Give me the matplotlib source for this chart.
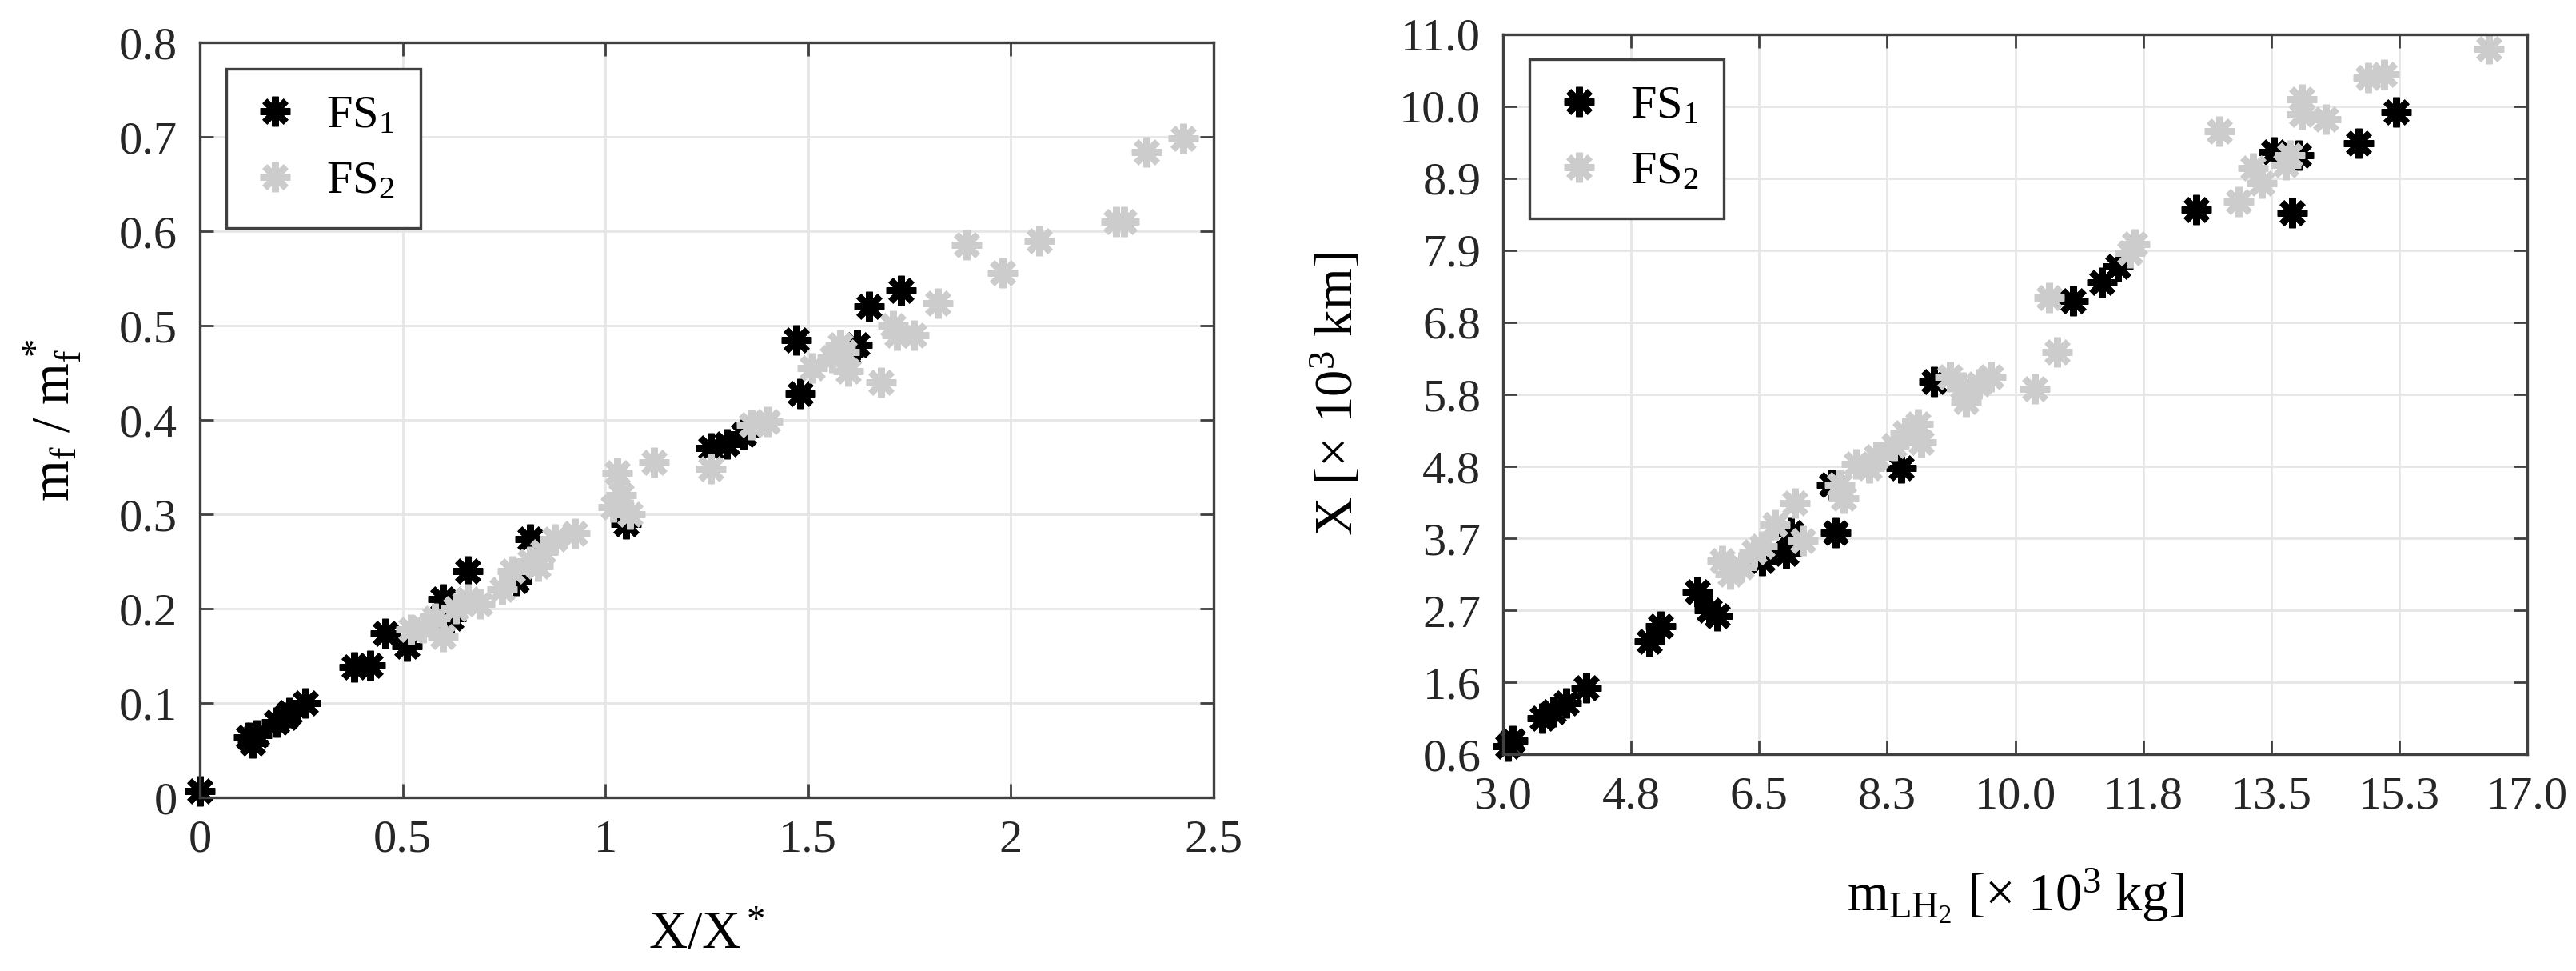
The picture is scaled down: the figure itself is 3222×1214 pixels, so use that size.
import numpy as np
import matplotlib
matplotlib.use("Agg")
import matplotlib.pyplot as plt

plt.rcParams['font.family'] = ['Liberation Serif', 'DejaVu Serif']
plt.rcParams['mathtext.fontset'] = 'custom'
plt.rcParams['mathtext.rm'] = 'Liberation Serif'
plt.rcParams['mathtext.it'] = 'Liberation Serif'
plt.rcParams['mathtext.default'] = 'rm'

# left panel: normalised range vs normalised fuel mass
fs1_xr = [0.0, 0.12, 0.13, 0.14, 0.19, 0.21, 0.22, 0.26, 0.38, 0.42, 0.457, 0.51,
          0.60, 0.62, 0.66, 0.78, 0.815, 1.05, 1.26, 1.30, 1.34, 1.47, 1.48,
          1.60, 1.62, 1.65, 1.73]
fs1_mr = [0.007, 0.064, 0.058, 0.066, 0.08, 0.085, 0.09, 0.10, 0.138, 0.14, 0.174, 0.16,
          0.21, 0.19, 0.24, 0.23, 0.274, 0.29, 0.37, 0.375, 0.385, 0.485, 0.428,
          0.47, 0.48, 0.52, 0.537]
fs2_xr = [0.52, 0.55, 0.58, 0.60, 0.63, 0.66, 0.69, 0.745, 0.77, 0.815, 0.835, 0.845,
          0.875, 0.925, 1.02, 1.04, 1.03, 1.06, 1.12, 1.26, 1.36, 1.40, 1.51, 1.56,
          1.58, 1.59, 1.60, 1.68, 1.71, 1.72, 1.76, 1.82, 1.89, 1.98, 2.07, 2.26,
          2.28, 2.335, 2.425]
fs2_mr = [0.178, 0.18, 0.19, 0.17, 0.20, 0.21, 0.205, 0.22, 0.24, 0.25, 0.245, 0.26,
          0.274, 0.28, 0.308, 0.32, 0.344, 0.30, 0.355, 0.348, 0.395, 0.398, 0.455, 0.466,
          0.48, 0.472, 0.452, 0.44, 0.50, 0.49, 0.49, 0.524, 0.586, 0.556, 0.59, 0.61,
          0.61, 0.684, 0.698]

# right panel: LH2 mass vs range
fs1_m = [3.06, 3.13, 3.53, 3.69, 3.86, 4.14, 5.0, 5.15, 5.65, 5.82, 5.93, 6.54,
         6.87, 6.93, 7.55, 7.49, 8.44, 8.89, 10.79, 11.18, 11.4, 12.47, 13.53,
         13.87, 13.79, 14.69, 15.21]
fs1_x = [0.72, 0.8, 1.12, 1.21, 1.34, 1.56, 2.23, 2.45, 2.95, 2.68, 2.6, 3.4,
         3.5, 3.8, 3.8, 4.5, 4.74, 5.99, 7.15, 7.42, 7.65, 8.47, 9.3,
         9.26, 8.42, 9.43, 9.88]
fs2_m = [5.99, 6.1, 6.26, 6.43, 6.54, 6.71, 6.99, 7.1, 7.6, 7.65, 7.83, 8.0, 8.1,
         8.34, 8.5, 8.67, 8.72, 9.11, 9.28, 9.33, 9.5, 9.67, 10.27, 10.57, 10.46,
         11.63, 11.57, 12.79, 13.05, 13.25, 13.37, 13.7, 13.75, 13.92, 13.92, 14.24,
         14.82, 15.04, 16.47]
fs2_x = [3.4, 3.2, 3.3, 3.52, 3.61, 3.92, 4.23, 3.69, 4.5, 4.3, 4.8, 4.74, 4.9,
         5.06, 5.24, 5.37, 5.11, 6.05, 5.9, 5.7, 5.95, 6.05, 5.88, 6.41, 7.2,
         7.97, 7.84, 9.6, 8.58, 9.07, 8.85, 9.12, 9.26, 10.06, 9.84, 9.78,
         10.37, 10.42, 10.79]

FS = 21
star = (8, 2, 0)
mk = dict(linestyle='none', marker=star, markersize=13.5, markeredgewidth=3.0, clip_on=False)
black = '#000000'
grey = '#cccccc'
axcol = '#404040'

fig = plt.figure(figsize=(16.11, 6.07), dpi=200)
ax1 = fig.add_axes([0.0776, 0.1787, 0.3935, 0.7776])
ax2 = fig.add_axes([0.5835, 0.2232, 0.3976, 0.7414])


def style(ax):
    ax.grid(True, color='#e6e6e6', linewidth=1.0)
    ax.set_axisbelow(True)
    ax.tick_params(direction='in', length=6, width=1.0, colors=axcol,
                   labelcolor='#262626', labelsize=FS, top=True, right=True, pad=10)
    for s in ax.spines.values():
        s.set_color(axcol)
        s.set_linewidth(1.2)


ax1.plot(fs1_xr, fs1_mr, color=black, markeredgecolor=black, label='FS$_1$', **mk)
ax1.plot(fs2_xr, fs2_mr, color=grey, markeredgecolor=grey, label='FS$_2$', **mk)
ax1.set_xlim(0, 2.5)
ax1.set_ylim(0, 0.8)
ax1.set_xticks([0, 0.5, 1, 1.5, 2, 2.5])
ax1.set_xticklabels(['0', '0.5', '1', '1.5', '2', '2.5'])
ax1.set_yticks(np.arange(0, 0.81, 0.1))
ax1.set_yticklabels(['0', '0.1', '0.2', '0.3', '0.4', '0.5', '0.6', '0.7', '0.8'])
ax1.set_xlabel('X/X$^*$', fontsize=FS + 3, labelpad=22)
ax1.set_ylabel('m$_f$ / m$_f^*$', fontsize=FS + 3, labelpad=16)
style(ax1)

ax2.plot(fs1_m, fs1_x, color=black, markeredgecolor=black, label='FS$_1$', **mk)
ax2.plot(fs2_m, fs2_x, color=grey, markeredgecolor=grey, label='FS$_2$', **mk)
ax2.set_xlim(3, 17)
ax2.set_ylim(0.6, 11.0)
xt = np.linspace(3, 17, 9)
yt = np.linspace(0.6, 11.0, 11)
ax2.set_xticks(xt)
ax2.set_xticklabels(['3.0', '4.8', '6.5', '8.3', '10.0', '11.8', '13.5', '15.3', '17.0'])
ax2.set_yticks(yt)
ax2.set_yticklabels(['%.1f' % v for v in yt])
ax2.set_xlabel('m$_{\\mathrm{LH}_2}$ [× 10$^3$ kg]', fontsize=FS + 3, labelpad=22)
ax2.set_ylabel('X [× 10$^3$ km]', fontsize=FS + 3, labelpad=16)
style(ax2)

for ax in (ax1, ax2):
    leg = ax.legend(loc='upper left', bbox_to_anchor=(0.026, 0.965), fontsize=FS,
                    fancybox=False, framealpha=1, edgecolor=axcol, borderpad=0.55,
                    handlelength=1.0, handletextpad=0.6, labelspacing=0.5,
                    borderaxespad=0)
    leg.get_frame().set_linewidth(1.2)

fig.savefig('out.png', dpi=200)
